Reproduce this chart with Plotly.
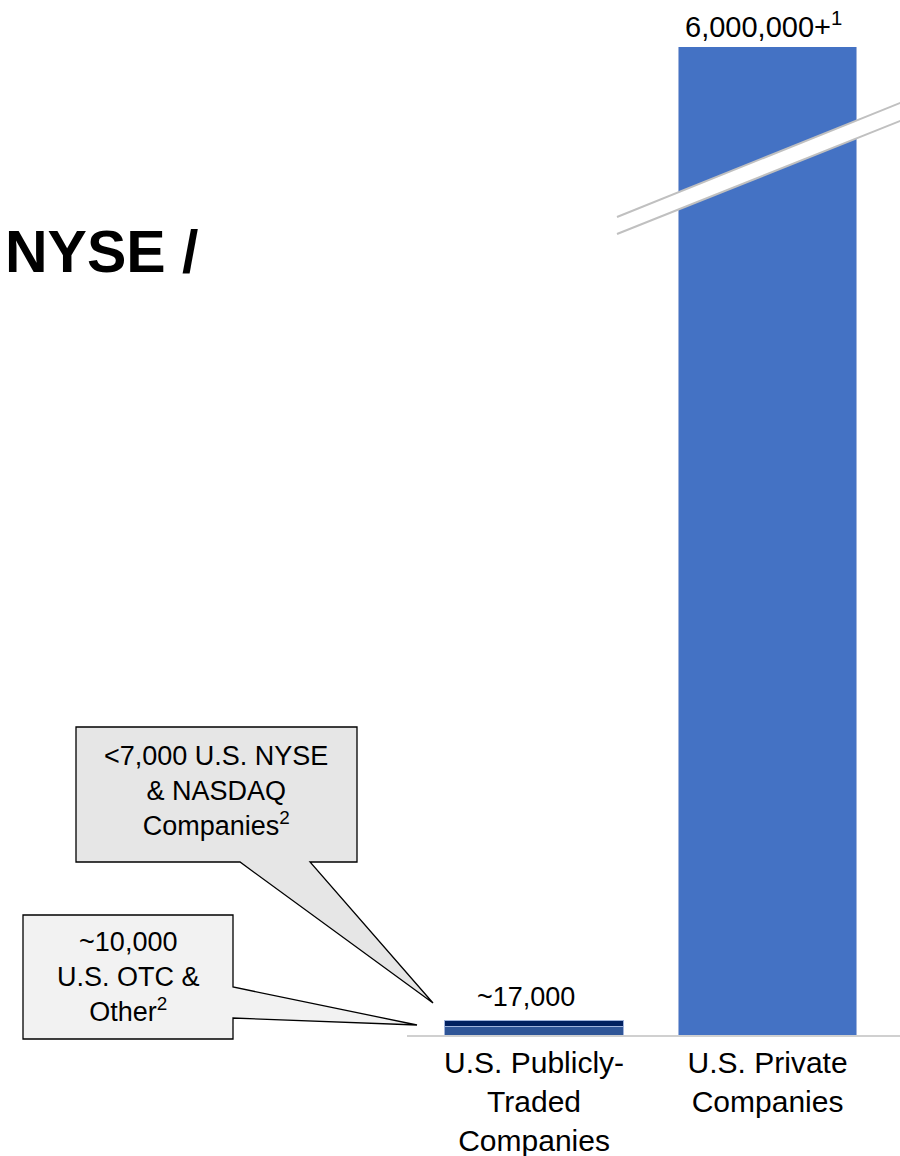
import plotly.graph_objects as go

# ---- data ----
categories = ["U.S. Publicly-<br>Traded<br>Companies", "U.S. Private<br>Companies"]
otc_other = [10000]          # ~10,000 U.S. OTC & Other
nyse_nasdaq = [7000]         # <7,000 U.S. NYSE & NASDAQ
private_cos = [6000000]      # 6,000,000+ private companies
public_total_label = "~17,000"
private_label = "6,000,000+<sup>1</sup>"
callout_nyse = "<7,000 U.S. NYSE<br>& NASDAQ<br>Companies<sup>2</sup>"
callout_otc = "~10,000<br>U.S. OTC &<br>Other<sup>2</sup>"
y_axis_max = 1150000  # broken axis: private bar is clipped

W, H = 900, 1156
L, R, T, B = 407, 0, 47, 121
PW, PH = W - L - R, H - T - B

def px(x):
    return (x - L) / PW

def py(y):
    return (H - B - y) / PH

FONT = "Liberation Sans, Arial, sans-serif"

fig = go.Figure()
fig.add_trace(go.Bar(x=[categories[0]], y=otc_other, width=0.765,
                     marker=dict(color="#2f5597", line=dict(color="#9fb3dc", width=1)),
                     hoverinfo="skip"))
fig.add_trace(go.Bar(x=[categories[0]], y=nyse_nasdaq, width=0.765,
                     marker=dict(color="#002060", line=dict(color="#9fb3dc", width=1)),
                     hoverinfo="skip"))
fig.add_trace(go.Bar(x=[categories[1]], y=private_cos, width=0.765,
                     marker=dict(color="#4472c4", line=dict(color="#9fb3dc", width=1)),
                     hoverinfo="skip"))

shapes = []
def path(pts):
    return "M " + " L ".join(f"{px(a):.5f},{py(b):.5f}" for a, b in pts) + " Z"

# axis break
shapes.append(dict(type="path", xref="paper", yref="paper",
                   path=path([(617, 217), (905, 101), (905, 119), (617, 234)]),
                   fillcolor="white", line=dict(width=0), layer="above"))
shapes.append(dict(type="line", xref="paper", yref="paper", x0=px(617), y0=py(217),
                   x1=px(905), y1=py(101), line=dict(color="#c0c0c0", width=2), layer="above"))
shapes.append(dict(type="line", xref="paper", yref="paper", x0=px(617), y0=py(234),
                   x1=px(905), y1=py(119), line=dict(color="#c0c0c0", width=2), layer="above"))
# callouts
shapes.append(dict(type="path", xref="paper", yref="paper",
                   path=path([(76, 727), (357, 727), (357, 862), (310, 862), (433, 1003),
                              (240, 862), (76, 862)]),
                   fillcolor="#e6e6e6", line=dict(color="black", width=1.3), layer="above"))
shapes.append(dict(type="path", xref="paper", yref="paper",
                   path=path([(23, 915), (233, 915), (233, 987), (417, 1025), (233, 1018),
                              (233, 1039), (23, 1039)]),
                   fillcolor="#f2f2f2", line=dict(color="black", width=1.3), layer="above"))

annotations = [
    dict(x=categories[0], y=sum(otc_other) + sum(nyse_nasdaq), xref="x", yref="y",
         text=public_total_label, showarrow=False, yanchor="bottom", xshift=-8, yshift=6,
         font=dict(family=FONT, size=27, color="black")),
    dict(x=categories[1], y=1, xref="x", yref="paper", text=private_label,
         showarrow=False, yanchor="bottom", xshift=-4, yshift=2,
         font=dict(family=FONT, size=29, color="black")),
    dict(x=px(216), y=py(791), xref="paper", yref="paper", text=callout_nyse,
         showarrow=False, xanchor="center", yanchor="middle",
         font=dict(family=FONT, size=27, color="black")),
    dict(x=px(128), y=py(977), xref="paper", yref="paper", text=callout_otc,
         showarrow=False, xanchor="center", yanchor="middle",
         font=dict(family=FONT, size=27, color="black")),
    dict(x=px(3), y=py(252), xref="paper", yref="paper", text="<b>NYSE /</b>",
         showarrow=False, xanchor="left", yanchor="middle",
         font=dict(family=FONT, size=59, color="black")),
]

fig.update_layout(
    width=W, height=H, barmode="stack", showlegend=False,
    margin=dict(l=L, r=R, t=T, b=B, autoexpand=False),
    paper_bgcolor="white", plot_bgcolor="white",
    shapes=shapes, annotations=annotations,
    xaxis=dict(type="category", range=[-0.544, 1.567], showline=True,
               linecolor="#d0d0d0", linewidth=2, ticks="", showgrid=False,
               tickfont=dict(family=FONT, size=30, color="black"), automargin=False),
    yaxis=dict(range=[0, y_axis_max], visible=False, showgrid=False, zeroline=False),
)

fig.write_html("out.html", config={"displayModeBar": False},
               post_script="document.body.style.margin='0px';document.body.style.padding='0px';")
